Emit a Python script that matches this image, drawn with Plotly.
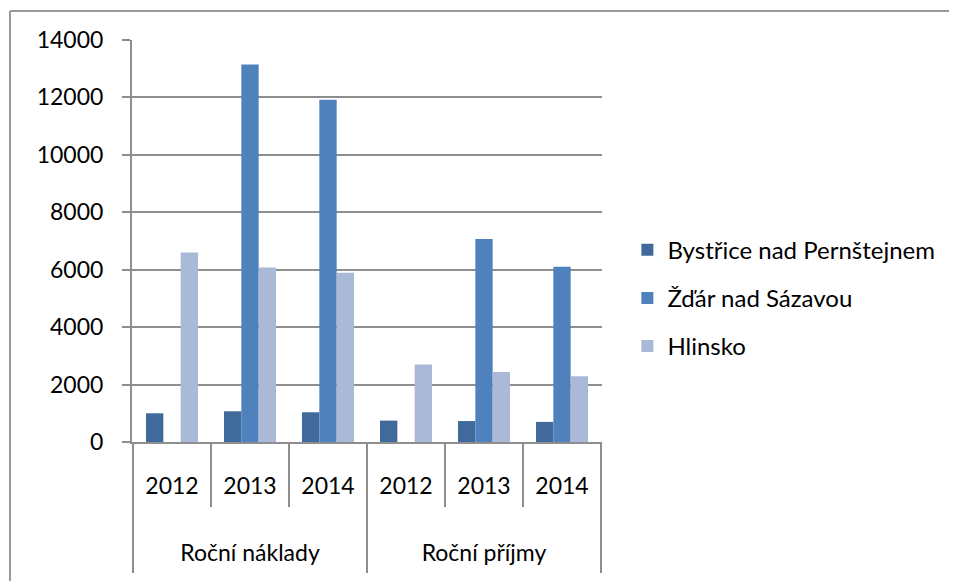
import plotly.graph_objects as go

# ─── Data ────────────────────────────────────────────────────────────────────

groups = ['Roční náklady'] * 3 + ['Roční příjmy'] * 3
years = ['2012', '2013', '2014', '2012', '2013', '2014']

bystrice = [1000, 1070, 1035, 745, 730, 700]
zdar = [None, 13150, 11920, None, 7070, 6100]
hlinsko = [6600, 6080, 5890, 2700, 2440, 2290]

series_names = ['Bystřice nad Pernštejnem', 'Žďár nad Sázavou', 'Hlinsko']
series_values = [bystrice, zdar, hlinsko]

y_ticks = [0, 2000, 4000, 6000, 8000, 10000, 12000, 14000]

# ─── Theme ───────────────────────────────────────────────────────────────────

COLORS = ['#416A9C', '#4F81BD', '#AAB9D7']
GRID = '#8E8E8E'
FONT = 'Lato, sans-serif'

# outer labels get blank leading lines so they sit lower, like the Excel axis
outer_labels = ['<br><br>' + g for g in groups]

fig = go.Figure()

for i, (name, vals) in enumerate(zip(series_names, series_values)):
    fig.add_trace(go.Bar(
        name=name,
        x=[outer_labels, years],
        y=vals,
        marker=dict(color=COLORS[i], line=dict(width=0)),
        legendgroup=f'g{i}',
    ))

# short separators between years, long ones between/around the groups
for xb in [0.5, 1.5, 3.5, 4.5]:
    fig.add_shape(type='line', xref='x', yref='paper',
                  x0=xb, x1=xb, y0=0, y1=-0.162,
                  line=dict(color=GRID, width=2))
for xb in [-0.5, 2.5, 5.5]:
    fig.add_shape(type='line', xref='x', yref='paper',
                  x0=xb, x1=xb, y0=0, y1=-0.326,
                  line=dict(color=GRID, width=2))

# chart frame (cropped on right/bottom)
fig.add_shape(type='line', xref='paper', yref='paper',
              x0=-0.2596, x1=1.9, y0=1.0721, y1=1.0721,
              line=dict(color='#9A9A9A', width=2))
fig.add_shape(type='line', xref='paper', yref='paper',
              x0=-0.2596, x1=-0.2596, y0=1.0721, y1=-0.45,
              line=dict(color='#9A9A9A', width=2))

fig.update_layout(
    width=957,
    height=581,
    paper_bgcolor='white',
    plot_bgcolor='white',
    font=dict(family=FONT, size=23, color='#000000'),
    margin=dict(l=124, r=363, t=32, b=147),
    barmode='group',
    bargap=0.333,
    bargroupgap=0,
    showlegend=True,
    legend=dict(
        x=1.054, xanchor='left',
        y=0.358, yanchor='middle',
        font=dict(family=FONT, size=24),
        tracegroupgap=14,
        traceorder='grouped',
        bgcolor='rgba(0,0,0,0)',
    ),
    xaxis=dict(
        type='multicategory',
        showgrid=False,
        showline=True,
        linecolor=GRID,
        linewidth=2,
        ticks='',
        ticklabelstandoff=22,
        showdividers=False,
        tickfont=dict(family=FONT, size=23),
    ),
    yaxis=dict(
        range=[0, 14000],
        tickvals=y_ticks,
        ticktext=[str(v) for v in y_ticks],
        showgrid=True,
        gridcolor=GRID,
        gridwidth=2,
        zeroline=False,
        showline=True,
        linecolor=GRID,
        linewidth=2,
        ticks='outside',
        ticklen=8,
        tickcolor=GRID,
        tickwidth=2,
        ticklabelstandoff=14,
        tickfont=dict(family=FONT, size=23),
    ),
)

fig.write_html("out.html")
